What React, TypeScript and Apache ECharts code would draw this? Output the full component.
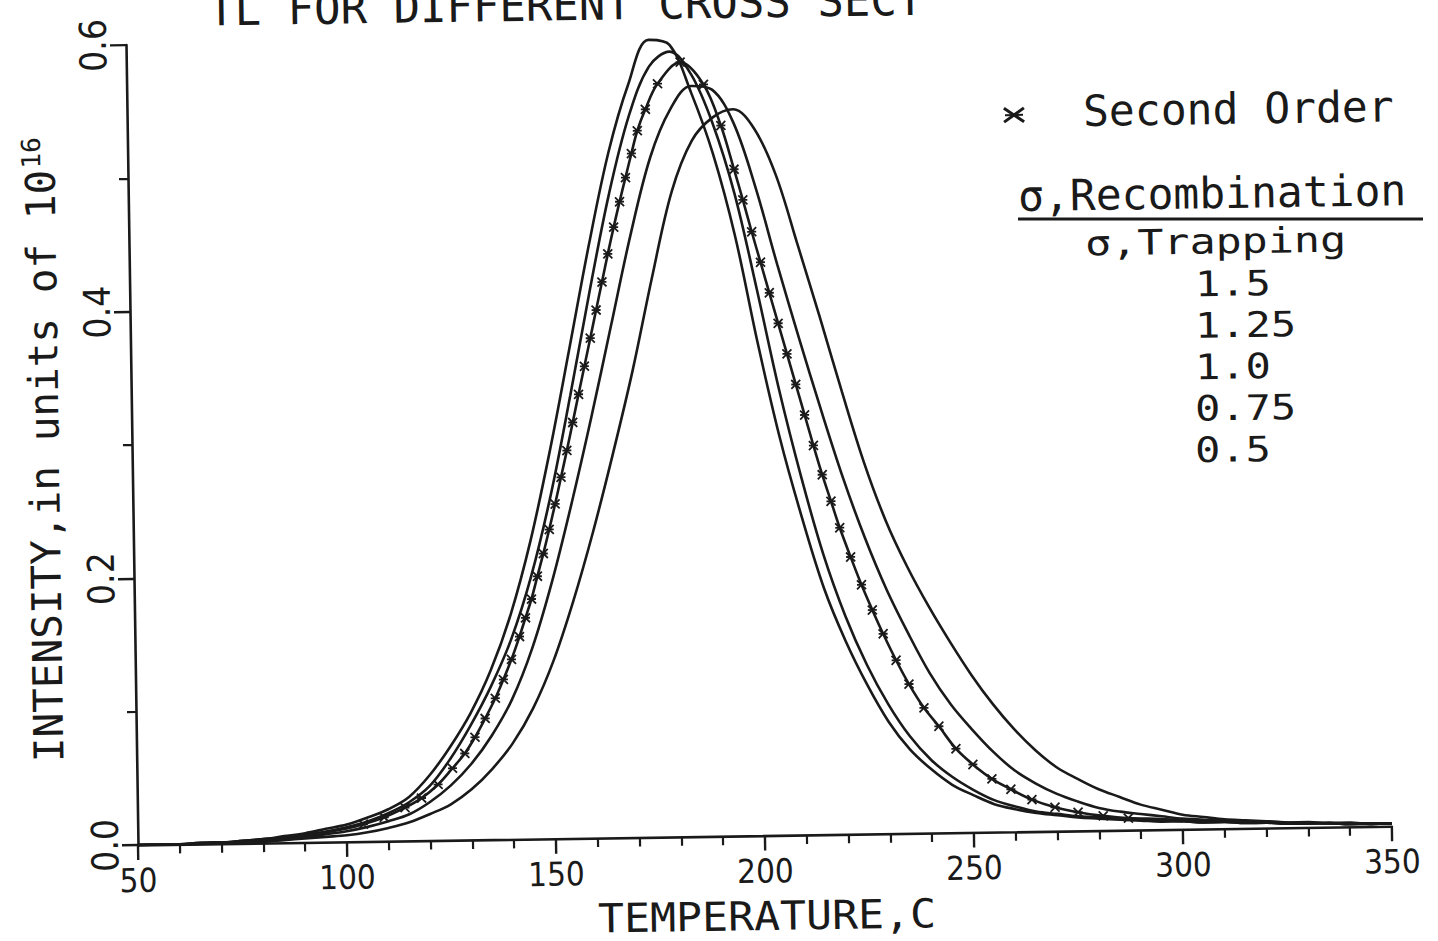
import React, { useEffect, useRef } from "react";
import * as echarts from "echarts";

// Temperature grid (°C) shared by the four plain glow curves
const temperatures = [
  50, 55, 60, 65, 70, 75, 80, 85, 90, 95, 100, 105, 110, 115, 120, 125, 130, 135, 140, 145,
  150, 155, 160, 165, 170, 175, 180, 185, 190, 195, 200, 205, 210, 215, 220, 225, 230, 235, 240, 245,
  250, 255, 260, 265, 270, 275, 280, 285, 290, 295, 300, 305, 310, 315, 320, 325, 330, 335, 340, 345, 350,
];

// Intensity (units of 1e16) for sigma_recombination / sigma_trapping = 1.5
const ratio150 = [
  0.0, 0.0, 0.0, 0.001, 0.001, 0.002, 0.003, 0.005, 0.007, 0.01, 0.013, 0.018, 0.024, 0.033, 0.049, 0.07, 0.095, 0.127, 0.169, 0.224,
  0.292, 0.368, 0.445, 0.514, 0.565, 0.598, 0.594, 0.558, 0.512, 0.45, 0.37, 0.298, 0.238, 0.185, 0.145, 0.112, 0.084, 0.063, 0.048, 0.036,
  0.028, 0.021, 0.017, 0.014, 0.012, 0.01, 0.009, 0.008, 0.007, 0.006, 0.006, 0.005, 0.005, 0.004, 0.004, 0.003, 0.003, 0.003, 0.002, 0.002, 0.002,
];

// ratio = 1.25
const ratio125 = [
  0.0, 0.0, 0.0, 0.001, 0.001, 0.002, 0.003, 0.004, 0.006, 0.008, 0.011, 0.015, 0.021, 0.029, 0.041, 0.061, 0.086, 0.115, 0.15, 0.197,
  0.258, 0.332, 0.41, 0.483, 0.541, 0.578, 0.589, 0.572, 0.535, 0.482, 0.41, 0.334, 0.268, 0.21, 0.164, 0.127, 0.097, 0.073, 0.055, 0.042,
  0.032, 0.024, 0.019, 0.015, 0.013, 0.011, 0.01, 0.009, 0.008, 0.007, 0.006, 0.005, 0.005, 0.004, 0.004, 0.003, 0.003, 0.003, 0.002, 0.002, 0.002,
];

// ratio = 0.75
const ratio075 = [
  0.0, 0.0, 0.0, 0.0, 0.001, 0.001, 0.002, 0.003, 0.004, 0.006, 0.008, 0.011, 0.015, 0.02, 0.029, 0.041, 0.057, 0.078, 0.105, 0.143,
  0.193, 0.252, 0.316, 0.384, 0.452, 0.51, 0.546, 0.563, 0.56, 0.535, 0.487, 0.428, 0.372, 0.318, 0.267, 0.222, 0.183, 0.15, 0.12, 0.096,
  0.077, 0.06, 0.046, 0.036, 0.028, 0.022, 0.017, 0.014, 0.012, 0.01, 0.008, 0.007, 0.006, 0.005, 0.005, 0.004, 0.003, 0.003, 0.003, 0.002, 0.002,
];

// ratio = 0.5
const ratio050 = [
  0.0, 0.0, 0.0, 0.0, 0.0, 0.001, 0.001, 0.002, 0.003, 0.004, 0.005, 0.007, 0.01, 0.014, 0.02, 0.027, 0.038, 0.053, 0.072, 0.098,
  0.133, 0.178, 0.23, 0.288, 0.35, 0.42, 0.484, 0.522, 0.539, 0.545, 0.53, 0.495, 0.442, 0.388, 0.332, 0.279, 0.235, 0.2, 0.17, 0.143,
  0.118, 0.096, 0.077, 0.061, 0.048, 0.039, 0.031, 0.025, 0.019, 0.015, 0.011, 0.009, 0.007, 0.006, 0.005, 0.004, 0.004, 0.003, 0.003, 0.002, 0.002,
];

// ratio = 1.0, which coincides with second-order kinetics; sampled where the asterisks sit
const secondOrderTemps = [
  50, 60, 70, 80, 90, 100, 104, 109, 114, 118, 122, 125.5, 128.5, 131, 133.5, 136, 138, 140,
  142, 143.5, 145, 146.5, 148, 149.5, 151, 152.5, 154, 155.5, 157, 158.5, 160, 161.5, 163, 164.5, 166, 167.5, 169, 170.5,
  172, 174, 177, 182.5, 188, 192, 195, 197, 199, 201, 203, 205, 207, 209, 211, 213, 215, 217, 219,
  221.5, 224, 226.5, 229, 232, 235, 238.5, 242, 246, 250, 254.5, 259, 264, 269.5, 275, 281, 287, 295, 305, 320, 335, 350,
];
const secondOrderVals = [
  0.0, 0.0, 0.001, 0.002, 0.005, 0.01, 0.013, 0.018, 0.025, 0.032, 0.042, 0.054, 0.065, 0.077, 0.091, 0.106, 0.12, 0.135,
  0.152, 0.166, 0.18, 0.197, 0.214, 0.232, 0.251, 0.271, 0.291, 0.312, 0.333, 0.354, 0.375, 0.396, 0.417, 0.438, 0.458, 0.477, 0.495, 0.513,
  0.53, 0.546, 0.565, 0.581, 0.564, 0.533, 0.5, 0.477, 0.453, 0.43, 0.407, 0.384, 0.361, 0.338, 0.315, 0.292, 0.27, 0.25, 0.23,
  0.208, 0.187, 0.168, 0.15, 0.13, 0.112, 0.094, 0.08, 0.063, 0.051, 0.04, 0.032, 0.024, 0.018, 0.014, 0.011, 0.009, 0.008, 0.006, 0.004, 0.003, 0.002,
];
// temperature range over which the second-order asterisks are plotted
const asteriskRange = [104, 288];

const ratioLabels = ["1.5", "1.25", "1.0", "0.75", "0.5"];

const INK = "#1a1a1a";
const MONO = "'DejaVu Sans Mono', monospace";
const NARROW = "'Liberation Sans Narrow', 'DejaVu Sans Condensed', 'Roboto Condensed', 'DejaVu Sans Mono', sans-serif";

// the sheet sits slightly tilted; the chart is drawn level and turned about the axis origin
const TILT = 0.015;
const PIVOT = [138, 845];
function level(x: number, y: number): [number, number] {
  const dx = x - PIVOT[0];
  const dy = y - PIVOT[1];
  const c = Math.cos(TILT);
  const s = Math.sin(TILT);
  return [PIVOT[0] + dx * c - dy * s, PIVOT[1] + dx * s + dy * c];
}

function textAt(x: number, y: number, text: string, size: number, opts: any = {}) {
  const [lx, ly] = level(x, y);
  return {
    type: "text",
    x: lx,
    y: ly,
    rotation: opts.rotation || 0,
    scaleX: opts.scaleX || 1,
    silent: true,
    style: {
      text,
      fill: INK,
      font: `${size}px ${opts.family || MONO}`,
      textAlign: opts.align || "left",
      textVerticalAlign: "middle",
    },
  };
}

export default function App() {
  const ref = useRef<HTMLDivElement>(null);

  useEffect(() => {
    if (!ref.current) return;
    const chart = echarts.init(ref.current, null, { renderer: "svg" });

    const pairs = (xs: number[], ys: number[]) => xs.map((x, i) => [x, ys[i]]);
    const curve = (name: string, data: any[]) => ({
      type: "line",
      name,
      data,
      smooth: 0.35,
      showSymbol: false,
      silent: true,
      lineStyle: { color: INK, width: 2.6 },
      z: 3,
    });

    const secondOrderData = secondOrderTemps.map((t, i) => {
      const v = [t, secondOrderVals[i]];
      return t >= asteriskRange[0] && t <= asteriskRange[1] ? v : { value: v, symbol: "none" };
    });

    const [mx, my] = level(1014, 115);
    const [u1x, u1y] = level(1018, 219);
    const [u2x, u2y] = level(1423, 219);

    const graphics: any[] = [
      textAt(208, 10, "TL FOR DIFFERENT CROSS SECT", 44),
      textAt(45, 466, "INTENSITY,in units of 10", 41, { rotation: Math.PI / 2, align: "center" }),
      textAt(31, 153, "16", 26, { rotation: Math.PI / 2, align: "center" }),
      textAt(767, 916, "TEMPERATURE,C", 40, { align: "center", scaleX: 1.08 }),
      {
        type: "group",
        x: mx,
        y: my,
        silent: true,
        children: [
          { type: "line", shape: { x1: -10, y1: -7, x2: 10, y2: 7 }, style: { stroke: INK, lineWidth: 3 } },
          { type: "line", shape: { x1: -10, y1: 7, x2: 10, y2: -7 }, style: { stroke: INK, lineWidth: 3 } },
          { type: "line", shape: { x1: -9, y1: 0, x2: 9, y2: 0 }, style: { stroke: INK, lineWidth: 2 } },
        ],
      },
      textAt(1083, 111, "Second Order", 43),
      textAt(1018, 196, "σ,Recombination", 43),
      {
        type: "line",
        silent: true,
        shape: { x1: u1x, y1: u1y, x2: u2x, y2: u2y },
        style: { stroke: INK, lineWidth: 3 },
      },
      textAt(1085, 243, "σ,Trapping", 35, { scaleX: 1.24 }),
      ...ratioLabels.map((r, i) => textAt(1195, 284 + i * 41.5, r, 35, { scaleX: 1.2 })),
    ];

    chart.setOption({
      animation: false,
      backgroundColor: "#ffffff",
      grid: { left: 138, top: 45, width: 1254, height: 800, containLabel: false, outerBoundsMode: "none" },
      xAxis: {
        type: "value",
        min: 50,
        max: 350,
        interval: 50,
        axisLine: { show: true, onZero: false, lineStyle: { color: INK, width: 2.6 } },
        axisTick: { show: true, inside: false, length: 15, lineStyle: { color: INK, width: 2.4 } },
        minorTick: { show: true, splitNumber: 5, length: 9, lineStyle: { color: INK, width: 2.2 } },
        splitLine: { show: false },
        minorSplitLine: { show: false },
        axisLabel: { show: true, margin: 19, color: INK, fontFamily: NARROW, fontSize: 33 },
      },
      yAxis: {
        type: "value",
        min: 0,
        max: 0.6,
        interval: 0.2,
        axisLine: { show: true, lineStyle: { color: INK, width: 2.6 } },
        axisTick: { show: true, inside: false, length: 16, lineStyle: { color: INK, width: 2.4 } },
        minorTick: { show: true, splitNumber: 2, length: 9, lineStyle: { color: INK, width: 2.2 } },
        splitLine: { show: false },
        minorSplitLine: { show: false },
        axisLabel: {
          show: true,
          rotate: 90,
          margin: 14,
          color: INK,
          fontFamily: NARROW,
          fontSize: 37,
          formatter: (v: number) => v.toFixed(1),
        },
      },
      series: [
        curve("1.5", pairs(temperatures, ratio150)),
        curve("1.25", pairs(temperatures, ratio125)),
        {
          ...curve("1.0", secondOrderData),
          showSymbol: true,
          symbol: "path://M0 0L10 10M10 0L0 10M0 5L10 5",
          symbolSize: 9,
          itemStyle: { color: "rgba(0,0,0,0)", borderColor: INK, borderWidth: 1.8 },
        },
        curve("0.75", pairs(temperatures, ratio075)),
        curve("0.5", pairs(temperatures, ratio050)),
      ],
      graphic: graphics,
    });

    return () => chart.dispose();
  }, []);

  return (
    <div
      style={{
        position: "absolute",
        left: 0,
        top: 0,
        width: 1438,
        height: 941,
        overflow: "hidden",
        background: "#ffffff",
      }}
    >
      <div
        ref={ref}
        style={{
          position: "absolute",
          left: 0,
          top: 0,
          width: 1480,
          height: 990,
          transform: `rotate(${-TILT}rad)`,
          transformOrigin: `${PIVOT[0]}px ${PIVOT[1]}px`,
        }}
      />
    </div>
  );
}
